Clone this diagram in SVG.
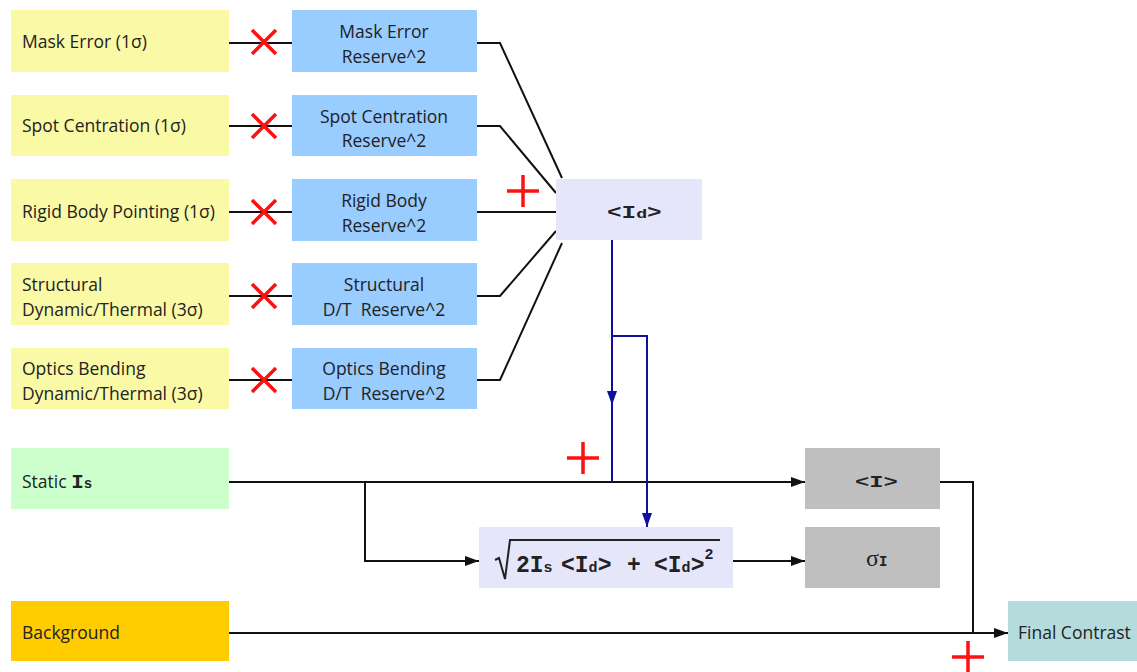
<svg xmlns="http://www.w3.org/2000/svg" width="1137" height="672" viewBox="0 0 1137 672">
<style>
.t{font-family:"Open Sans","Liberation Sans",sans-serif;font-size:17.5px;fill:#222}
.c{text-anchor:middle}
.m{font-family:"Liberation Mono","DejaVu Sans Mono",monospace;font-weight:bold;fill:#222}
.y{fill:#FAFAA6}
.b{fill:#99CCFF}
.ln{fill:none;stroke:#111;stroke-width:2}
.bl{fill:none;stroke:#1010A0;stroke-width:2}
.r{stroke:#FF1010;stroke-width:3.5;fill:none}
</style>
<defs>
<marker id="ab" viewBox="0 0 14 10" refX="14" refY="5" markerWidth="14" markerHeight="10" markerUnits="userSpaceOnUse" orient="auto"><path d="M0,0 L14,5 L0,10 z" fill="#111"/></marker>
<marker id="au" viewBox="0 0 14 10" refX="14" refY="5" markerWidth="14" markerHeight="10" markerUnits="userSpaceOnUse" orient="auto"><path d="M0,0 L14,5 L0,10 z" fill="#1010A0"/></marker>
</defs>
<rect width="1137" height="672" fill="#fff"/>
<g id="connectors">
<path class="ln" d="M229,43H292M229,126H292M229,212H292M229,296H292M229,380H292"/>
<path class="ln" d="M477,43H500L562,178M477,126H500L556,193M477,212H556M477,296H500L556,231M477,380H500L562,243"/>
<path class="ln" d="M229,482H805" marker-end="url(#ab)"/>
<path class="ln" d="M365,482V561H479" marker-end="url(#ab)"/>
<path class="ln" d="M733,561H805" marker-end="url(#ab)"/>
<path class="ln" d="M940,482H973V633"/>
<path class="ln" d="M229,633H1008" marker-end="url(#ab)"/>
<path class="bl" d="M612,240V405" marker-end="url(#au)"/>
<path class="bl" d="M612,400V482"/>
<path class="bl" d="M612,336H647V527" marker-end="url(#au)"/>
</g>
<g id="ops">
<path class="r" d="M252,30L276,54M276,30L252,54"/>
<path class="r" d="M252,114L276,138M276,114L252,138"/>
<path class="r" d="M252,200L276,224M276,200L252,224"/>
<path class="r" d="M252,284L276,308M276,284L252,308"/>
<path class="r" d="M252,368L276,392M276,368L252,392"/>
<path class="r" d="M507,191H539M523,175V207"/>
<path class="r" d="M567,458H599M583,442V474"/>
<path class="r" d="M952,657H984M968,641V673"/>
</g>
<g id="mask"><rect class="y" x="11" y="10" width="218" height="62"/><text class="t" x="22" y="48">Mask Error (1σ)</text></g>
<g id="spot"><rect class="y" x="11" y="95" width="218" height="61"/><text class="t" x="22" y="132">Spot Centration (1σ)</text></g>
<g id="rigid"><rect class="y" x="11" y="179" width="218" height="62"/><text class="t" x="22" y="218">Rigid Body Pointing (1σ)</text></g>
<g id="struct"><rect class="y" x="11" y="263" width="218" height="62"/><text class="t" x="22" y="291">Structural</text><text class="t" x="22" y="316">Dynamic/Thermal (3σ)</text></g>
<g id="optics"><rect class="y" x="11" y="348" width="218" height="61"/><text class="t" x="22" y="375">Optics Bending</text><text class="t" x="22" y="400">Dynamic/Thermal (3σ)</text></g>
<g id="maskR"><rect class="b" x="292" y="10" width="185" height="62"/><text class="t c" x="384" y="38">Mask Error</text><text class="t c" x="384" y="63">Reserve^2</text></g>
<g id="spotR"><rect class="b" x="292" y="95" width="185" height="61"/><text class="t c" x="384" y="123">Spot Centration</text><text class="t c" x="384" y="147">Reserve^2</text></g>
<g id="rigidR"><rect class="b" x="292" y="179" width="185" height="62"/><text class="t c" x="384" y="207">Rigid Body</text><text class="t c" x="384" y="232">Reserve^2</text></g>
<g id="structR"><rect class="b" x="292" y="263" width="185" height="62"/><text class="t c" x="384" y="291">Structural</text><text class="t c" x="384" y="316" xml:space="preserve">D/T  Reserve^2</text></g>
<g id="opticsR"><rect class="b" x="292" y="348" width="185" height="61"/><text class="t c" x="384" y="375">Optics Bending</text><text class="t c" x="384" y="400" xml:space="preserve">D/T  Reserve^2</text></g>
<g id="id"><rect x="556" y="179" width="146" height="61" fill="#E6E6FA"/><text class="m" transform="translate(607,218) scale(1.35,1)" x="0" y="0" font-size="18">&lt;I<tspan font-size="13.5">d</tspan>&gt;</text></g>
<g id="static"><rect x="11" y="448" width="218" height="61" fill="#CCFFCC"/><text class="t" x="22" y="488">Static <tspan class="m" font-size="21">I<tspan font-size="14">s</tspan></tspan></text></g>
<g id="background"><rect x="11" y="601" width="218" height="60" fill="#FFCC00"/><text class="t" x="22" y="639">Background</text></g>
<g id="sqrt"><rect x="479" y="527" width="254" height="61" fill="#E6E6FA"/>
<path d="M495,560L499,558L505,579L510,540H720" fill="none" stroke="#222" stroke-width="2"/>
<text class="m" y="572" font-size="23"><tspan x="516">2I</tspan><tspan font-size="15">s</tspan><tspan x="561">&lt;I</tspan><tspan font-size="15">d</tspan><tspan>&gt;</tspan><tspan x="627">+</tspan><tspan x="654">&lt;I</tspan><tspan font-size="15">d</tspan><tspan>&gt;</tspan><tspan font-size="15" dy="-13">2</tspan></text></g>
<g id="mean"><rect x="805" y="448" width="135" height="61" fill="#BFBFBF"/><text class="m" transform="translate(855,487) scale(1.4,1)" x="0" y="0" font-size="17">&lt;I&gt;</text></g>
<g id="sigma"><rect x="805" y="527" width="135" height="61" fill="#BFBFBF"/><text x="866" y="566" font-family="Liberation Serif,serif" font-size="24" fill="#222">σ<tspan class="m" font-size="14">I</tspan></text></g>
<g id="final"><rect x="1008" y="601" width="129" height="60" fill="#B5DCDC"/><text class="t" x="1018" y="639">Final Contrast</text></g>
</svg>
